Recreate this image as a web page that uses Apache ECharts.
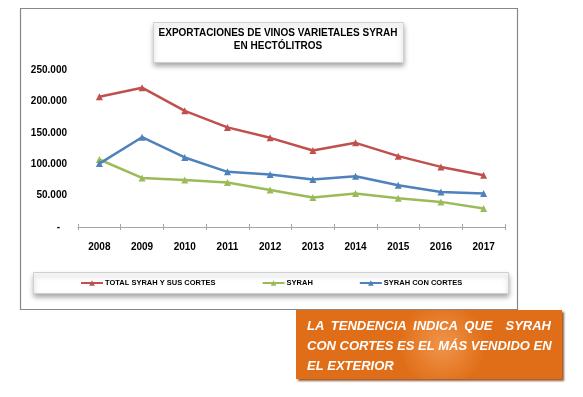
<!DOCTYPE html>
<html>
<head>
<meta charset="utf-8">
<script src="https://cdn.jsdelivr.net/npm/echarts@6/dist/echarts.min.js"></script>
<style>
html,body{margin:0;padding:0;background:#fff;}
#c{width:583px;height:397px;}
</style>
</head>
<body>
<div id="c"></div>
<script>
const years = ['2008','2009','2010','2011','2012','2013','2014','2015','2016','2017'];
const totalSyrahCortes = [207400, 221800, 185000, 158600, 142000, 121900, 134000, 112800, 95700, 82500];
const syrah = [107500, 78200, 75000, 70800, 59000, 47000, 53200, 45800, 40000, 29400];
const syrahConCortes = [101000, 143000, 110700, 87800, 83500, 75600, 80900, 66500, 55800, 53200];
const seriesNames = ['TOTAL SYRAH Y SUS CORTES', 'SYRAH', 'SYRAH CON CORTES'];
const titleText = 'EXPORTACIONES DE VINOS VARIETALES SYRAH\nEN HECTÓLITROS';
const noteLine1 = ['LA', 'TENDENCIA', 'INDICA', 'QUE', 'SYRAH'];
const noteLine2 = 'CON CORTES ES EL MÁS VENDIDO EN';
const noteLine3 = 'EL EXTERIOR';

const FONT = '"Liberation Sans", Arial, sans-serif';
const NOTE_FONT = 'italic bold 13px ' + FONT;
const colors = ['#c0504d', '#9bbb59', '#4f81bd'];

function fmt(v) {
  if (v === 0) return '{d|-}';
  return String(v).replace(/\B(?=(\d{3})+(?!\d))/g, '.');
}

// justify first note line between left and right edges
const noteLeft = 307, noteRight = 551;
const mctx = document.createElement('canvas').getContext('2d');
mctx.font = NOTE_FONT;
const widths = noteLine1.map(w => mctx.measureText(w).width);
const gapWeights = [1, 1, 1, 2];
const free = (noteRight - noteLeft) - widths.reduce((a, b) => a + b, 0);
const unit = free / gapWeights.reduce((a, b) => a + b, 0);
const noteGraphics = [];
let cx = noteLeft;
noteLine1.forEach((w, i) => {
  noteGraphics.push({type: 'text', x: cx, y: 326, z: 20,
    style: {text: w, fill: '#fff', font: NOTE_FONT, textVerticalAlign: 'middle', textAlign: 'left'}});
  cx += widths[i] + (i < gapWeights.length ? gapWeights[i] * unit : 0);
});
noteGraphics.push({type: 'text', x: noteLeft, y: 346, z: 20,
  style: {text: noteLine2, fill: '#fff', font: NOTE_FONT, textVerticalAlign: 'middle', textAlign: 'left'}});
noteGraphics.push({type: 'text', x: noteLeft, y: 366, z: 20,
  style: {text: noteLine3, fill: '#fff', font: NOTE_FONT, textVerticalAlign: 'middle', textAlign: 'left'}});

const chart = echarts.init(document.getElementById('c'), null, {renderer: 'canvas'});

chart.setOption({
  animation: false,
  color: colors,
  title: {
    text: titleText,
    left: 278, top: 27, padding: 0,
    textAlign: 'center',
    textStyle: {fontFamily: FONT, fontWeight: 'bold', fontSize: 10, color: '#000', lineHeight: 13}
  },
  legend: {
    data: seriesNames,
    left: 80, top: 279, padding: 0,
    itemGap: 46, itemWidth: 22, itemHeight: 7,
    textStyle: {fontFamily: FONT, fontWeight: 'bold', fontSize: 7.5, color: '#000', padding: [0, 0, 0, -3]}
  },
  grid: {left: 78, right: 78, top: 70, bottom: 170, containLabel: false},
  xAxis: [{
    type: 'category', data: years, boundaryGap: true,
    axisLine: {lineStyle: {color: '#a6a6a6', width: 1}},
    axisTick: {show: true, length: 3, lineStyle: {color: '#a6a6a6'}},
    axisLabel: {margin: 15, fontFamily: FONT, fontWeight: 'bold', fontSize: 10, color: '#000'},
    splitLine: {show: false}
  }, {
    type: 'category', data: years, boundaryGap: true, position: 'bottom',
    axisLine: {show: false},
    axisTick: {show: true, inside: true, length: 3, lineStyle: {color: '#a6a6a6'}},
    axisLabel: {show: false}, splitLine: {show: false}
  }],
  yAxis: {
    type: 'value', min: 0, max: 250000, interval: 50000,
    axisLine: {show: false}, axisTick: {show: false}, splitLine: {show: false},
    axisLabel: {margin: 11, fontFamily: FONT, fontWeight: 'bold', fontSize: 10, color: '#000',
      formatter: fmt, rich: {d: {fontFamily: FONT, fontWeight: 'bold', fontSize: 10, color: '#000', padding: [0, 7, 0, 0]}}}
  },
  series: [
    {name: seriesNames[0], type: 'line', data: totalSyrahCortes, symbol: 'triangle', symbolSize: 7,
      lineStyle: {width: 2.5}, itemStyle: {color: colors[0]}, z: 3},
    {name: seriesNames[1], type: 'line', data: syrah, symbol: 'triangle', symbolSize: 7,
      lineStyle: {width: 2.5}, itemStyle: {color: colors[1]}, z: 3},
    {name: seriesNames[2], type: 'line', data: syrahConCortes, symbol: 'triangle', symbolSize: 7,
      lineStyle: {width: 2.5}, itemStyle: {color: colors[2]}, z: 4}
  ],
  graphic: [
    {type: 'rect', z: -10, shape: {x: 20.5, y: 8.5, width: 497, height: 301},
      style: {fill: '#fff', stroke: '#878787', lineWidth: 1.2}},
    {type: 'rect', z: -5, shape: {x: 153.5, y: 22.5, width: 250, height: 40},
      style: {fill: '#fff', stroke: '#d0d0d0', lineWidth: 1, shadowBlur: 5, shadowOffsetY: 3, shadowColor: 'rgba(0,0,0,0.35)'}},
    {type: 'rect', z: -5, shape: {x: 33.5, y: 272.5, width: 475, height: 21},
      style: {fill: '#fff', stroke: '#d0d0d0', lineWidth: 1, shadowBlur: 5, shadowOffsetY: 3, shadowColor: 'rgba(0,0,0,0.35)'}},
    {type: 'rect', z: 10, shape: {x: 296, y: 310, width: 266, height: 69},
      style: {
        fill: new echarts.graphic.RadialGradient(0.55, 0.5, 0.65, [
          {offset: 0, color: '#f0954a'},
          {offset: 1, color: '#e06d17'}
        ]),
        shadowBlur: 2, shadowOffsetX: 2, shadowOffsetY: 2, shadowColor: 'rgba(120,50,0,0.8)'
      }},
    ...noteGraphics
  ]
});
</script>
</body>
</html>
